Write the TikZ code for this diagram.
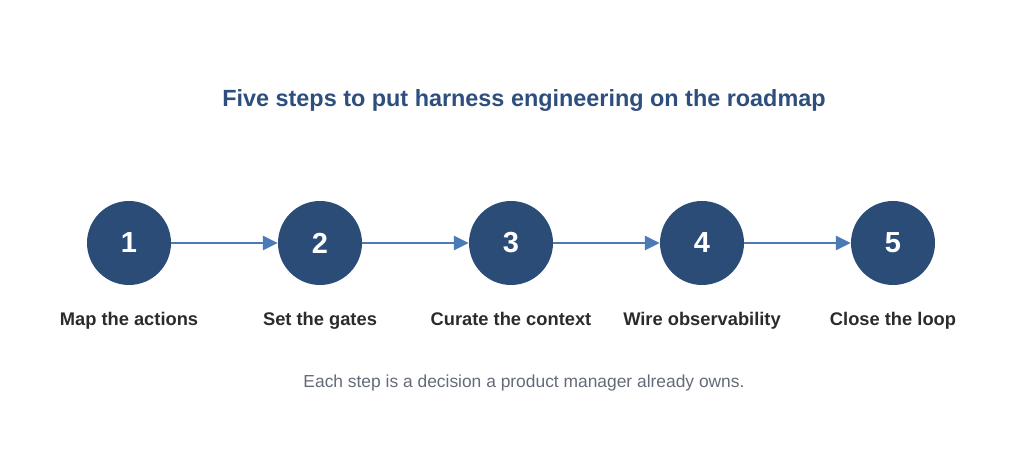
\documentclass[tikz,border=0pt]{standalone}
\usepackage{fontspec}
\setmainfont{Liberation Sans}
\usetikzlibrary{arrows.meta}
\definecolor{navy}{HTML}{2B4C77}
\definecolor{arrowc}{HTML}{4A7BB7}
\definecolor{titlec}{HTML}{2E4E7E}
\definecolor{labelc}{HTML}{2B2B2B}
\definecolor{capc}{HTML}{646B78}
\begin{document}
\begin{tikzpicture}[x=1pt,y=1pt,
  stepnode/.style={circle,fill=navy,minimum size=84pt,inner sep=0pt,text=white,font=\fontsize{29}{34}\selectfont\bfseries},
  lbl/.style={text=labelc,anchor=base,font=\fontsize{18.3}{22}\selectfont\bfseries},
  conn/.style={draw=arrowc,line width=2.8pt,-{Triangle[length=15pt,width=14pt]}}]
\useasboundingbox (0,0) rectangle (1024,465);
\node[text=titlec,font=\fontsize{23.4}{28}\selectfont\bfseries] (title) at (524,364) {Five steps to put harness engineering on the roadmap};
\foreach \i/\x/\t in {1/129/Map the actions,2/320/Set the gates,3/511/Curate the context,4/702/Wire observability,5/893/Close the loop}{
  \node[stepnode] (s\i) at (\x,222) {\i};
  \node[lbl] (l\i) at (\x,139) {\t};
}
\foreach \a/\b in {1/2,2/3,3/4,4/5}{\draw[conn] (s\a) -- (s\b);}
\node[text=capc,font=\fontsize{17.4}{21}\selectfont] (cap) at (524,82) {Each step is a decision a product manager already owns.};
\end{tikzpicture}
\end{document}
